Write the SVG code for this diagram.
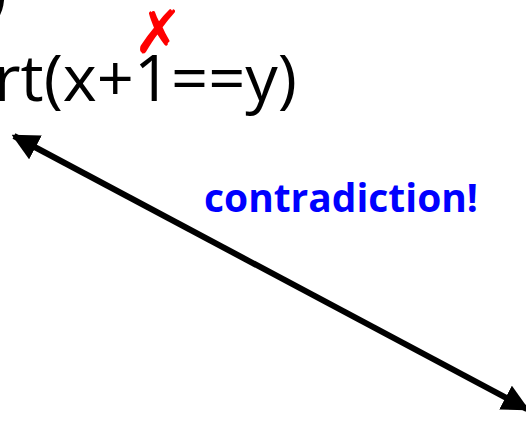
<svg xmlns="http://www.w3.org/2000/svg" width="526" height="432" viewBox="0 0 526 432">
  <style>
    .code { font-family: "Open Sans", "Liberation Sans", sans-serif; font-size: 64px; fill: #000; }
    .note { font-family: "Open Sans", "Liberation Sans", sans-serif; font-size: 40px; font-weight: bold; fill: #0000ff; }
    .mark { font-family: "DejaVu Sans", sans-serif; font-size: 60px; font-weight: bold; fill: #ff0000; }
    .conn { stroke: #000; stroke-width: 6; fill: none; }
  </style>
  <defs>
    <marker id="ah" viewBox="0 0 10 10" refX="9" refY="5" markerWidth="4.5" markerHeight="4.5" orient="auto-start-reverse" markerUnits="strokeWidth">
      <path d="M0,0 L10,5 L0,10 Z" fill="#000"/>
    </marker>
  </defs>
  <rect width="526" height="432" fill="#fff"/>
  <g id="code-prev">
    <text class="code" x="-12" y="13">)</text>
  </g>
  <g id="code">
    <text class="code" x="-6" y="101" textLength="303" lengthAdjust="spacingAndGlyphs">rt(x+1==y)</text>
  </g>
  <g id="cross">
    <text class="mark" x="133" y="53">✗</text>
  </g>
  <g id="label">
    <text class="note" x="204" y="212" textLength="274" lengthAdjust="spacingAndGlyphs">contradiction!</text>
  </g>
  <g id="connectors">
    <line class="conn" x1="14" y1="136" x2="527" y2="409" marker-start="url(#ah)" marker-end="url(#ah)"/>
  </g>
</svg>
